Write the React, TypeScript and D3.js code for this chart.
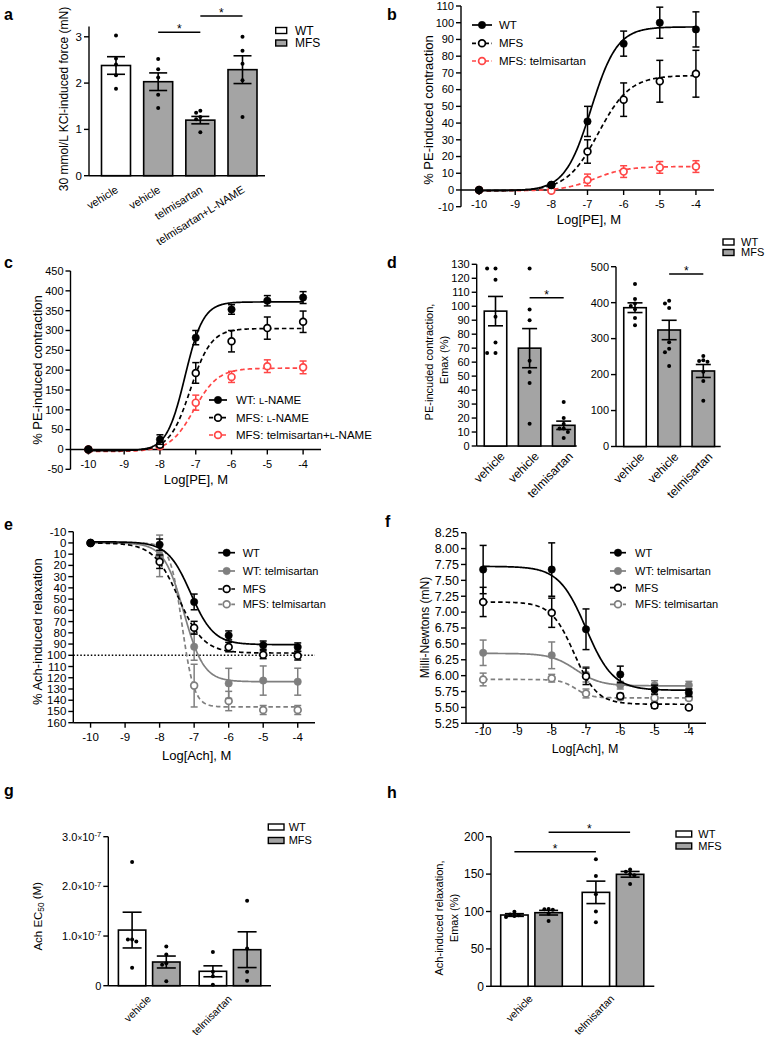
import React from "react";
import * as d3 from "d3";

const FONT = "'Liberation Sans', Arial, Helvetica, sans-serif";
const BAR_GRAY = "#a4a4a4";
const RED = "#ff4646";
const MID_GRAY = "#7f7f7f";

// ================= DATA =================
// Panel a
const aLabels = ["vehicle", "vehicle", "telmisartan", "telmisartan+L-NAME"];
const aGenotype = ["WT", "MFS", "MFS", "MFS"];
const aMean = [2.38, 2.03, 1.2, 2.29];
const aSem = [0.19, 0.19, 0.08, 0.3];
const aPoints = [
  [3.03, 2.53, 2.4, 2.17, 1.88],
  [2.52, 2.3, 2.12, 1.75, 1.46],
  [1.4, 1.36, 1.27, 1.22, 0.94],
  [3.0, 2.7, 2.42, 2.06, 1.27],
];
const aTicks = [0, 1, 2, 3];
const aSigPairs = [[1, 2], [2, 3]];

// Concentration-response panels (log molar)
const logDose = [-10, -8, -7, -6, -5, -4];
const logTicks = [-10, -9, -8, -7, -6, -5, -4];

// Panel b (fit = [start, end, logEC50, hill])
const bWtMean = [0, 3, 41, 87.5, 100, 96];
const bWtSem = [0.5, 1, 9, 7.5, 9.3, 10.5];
const bWtFit = [-0.5, 97.5, -6.9, 1.2];
const bMfsMean = [0, 3, 23, 54, 65, 69.5];
const bMfsSem = [0.5, 1, 7, 10, 12.5, 14];
const bMfsFit = [-0.5, 68.5, -6.7, 1.0];
const bTelMean = [0, -0.5, 6, 11, 13.5, 14];
const bTelSem = [0.5, 1, 3.5, 3.5, 3.5, 3.5];
const bTelFit = [-0.5, 14, -6.8, 1.0];
const bYTicks = d3.range(-10, 111, 10);

// Panel c
const cWtMean = [0, 25, 282, 353, 375, 383];
const cWtSem = [3, 12, 18, 12, 13, 15];
const cWtFit = [-3, 372, -7.3, 1.7];
const cMfsMean = [0, 12, 193, 273, 306, 322];
const cMfsSem = [3, 6, 26, 27, 28, 27];
const cMfsFit = [-3, 305, -7.15, 1.5];
const cTelMean = [0, 8, 118, 183, 210, 207];
const cTelSem = [3, 4, 19, 14, 16, 16];
const cTelFit = [-5, 205, -7.05, 1.3];
const cYTicks = d3.range(-50, 451, 50);

// Panel d
const dLabels = ["vehicle", "vehicle", "telmisartan"];
const dGenotype = ["WT", "MFS", "MFS"];
const dLeftMean = [96.5, 70, 14.8];
const dLeftSem = [10.5, 14, 3];
const dLeftPoints = [
  [127, 127, 119, 92.5, 74, 66.5, 66.5],
  [127, 97.7, 90, 61, 53, 45, 16],
  [31.5, 20, 15.8, 12.5, 12.5, 10, 5.7],
];
const dRightMean = [386, 324, 210];
const dRightSem = [13.5, 27, 18];
const dRightPoints = [
  [452, 410, 398, 391, 382, 357, 337],
  [405, 398, 385, 290, 272, 262, 224],
  [252, 240, 238, 236, 208, 182, 127],
];
const dLeftTicks = d3.range(0, 131, 10);
const dRightTicks = d3.range(0, 501, 100);

// Panel e
const eWtMean = [0, 1.5, 52.5, 82.3, 91, 92.7];
const eWtSem = [1, 5, 7, 4, 3.7, 3.7];
const eWtFit = [-1, 90.5, -7.1, 1.3];
const eWtTelMean = [0, 12, 92.4, 125, 122.5, 123.5];
const eWtTelSem = [1, 4, 12, 13.4, 13, 12];
const eWtTelFit = [0, 123.5, -7.3, 1.5];
const eMfsMean = [0, 16.7, 75.5, 92.7, 99.5, 100.4];
const eMfsSem = [1, 6, 5.7, 4.2, 3.5, 3.8];
const eMfsFit = [0, 98, -7.45, 1.2];
const eMfsTelMean = [0, 11.5, 127, 140.7, 148.7, 148.7];
const eMfsTelSem = [1, 18.5, 19, 8.6, 4, 4];
const eMfsTelFit = [0, 146, -7.35, 2.5];
const eYTicks = d3.range(-10, 161, 10);
const eRefLine = 100;

// Panel f
const fWtMean = [7.67, 7.67, 6.73, 6.02, 5.78, 5.73];
const fWtSem = [0.38, 0.42, 0.32, 0.13, 0.07, 0.06];
const fWtFit = [7.72, 5.77, -7.0, 1.1];
const fWtTelMean = [6.36, 6.32, 6.02, 5.85, 5.85, 5.85];
const fWtTelSem = [0.2, 0.21, 0.12, 0.06, 0.07, 0.06];
const fWtTelFit = [6.35, 5.84, -7.3, 1.2];
const fMfsMean = [7.16, 6.99, 5.99, 5.68, 5.53, 5.5];
const fMfsSem = [0.23, 0.23, 0.13, 0.04, 0.04, 0.03];
const fMfsFit = [7.16, 5.55, -7.35, 1.3];
const fMfsTelMean = [5.94, 5.96, 5.72, 5.66, 5.65, 5.65];
const fMfsTelSem = [0.1, 0.06, 0.07, 0.04, 0.05, 0.04];
const fMfsTelFit = [5.94, 5.65, -7.3, 2.0];
const fYTicks = d3.range(5.25, 8.26, 0.25);

// Panel g
const gGroups = ["vehicle", "telmisartan"];
const gWtMean = [1.12e-7, 0.29e-7];
const gWtSem = [0.36e-7, 0.11e-7];
const gMfsMean = [0.477e-7, 0.725e-7];
const gMfsSem = [0.12e-7, 0.36e-7];
const gWtPoints = [[2.49e-7, 0.93e-7, 0.89e-7, 0.93e-7, 0.36e-7], [0.68e-7, 0.28e-7, 0.19e-7, 0.02e-7]];
const gMfsPoints = [[0.79e-7, 0.63e-7, 0.45e-7, 0.42e-7, 0.09e-7], [1.71e-7, 0.75e-7, 0.28e-7, 0.1e-7]];
const gTicks = [0, 1e-7, 2e-7, 3e-7];

// Panel h
const hGroups = ["vehicle", "telmisartan"];
const hWtMean = [95.3, 125.6];
const hWtSem = [1.8, 15];
const hMfsMean = [98.4, 149.7];
const hMfsSem = [3.1, 3.8];
const hWtPoints = [[99.8, 96, 95, 94, 92.5], [170, 147.6, 123, 100, 85.5]];
const hMfsPoints = [[103.3, 102.9, 102.5, 97, 87.2], [156.3, 153, 150, 148.5, 136.7]];
const hTicks = [0, 50, 100, 150, 200];

// ================= HELPERS =================
const SW = 1.4;

function logistic(fit: number[], x: number) {
  const [s, e, c, h] = fit;
  return s + (e - s) / (1 + Math.pow(10, (c - x) * h));
}

function YAxis({ x, y, ticks, fmt, fs, top, bottom }: any) {
  return (
    <g>
      <line x1={x} x2={x} y1={top} y2={bottom} stroke="#000" strokeWidth={SW} />
      {ticks.map((t: number, i: number) => (
        <g key={i}>
          <line x1={x - 5} x2={x} y1={y(t)} y2={y(t)} stroke="#000" strokeWidth={SW} />
          <text x={x - 7} y={y(t)} dy="0.35em" textAnchor="end" fontSize={fs}>
            {fmt ? fmt(t) : String(t)}
          </text>
        </g>
      ))}
    </g>
  );
}

function XAxisLog({ x, yLine, labelY, fs }: any) {
  const [d0, d1] = x.domain();
  return (
    <g>
      <line x1={x(d0)} x2={x(d1)} y1={yLine} y2={yLine} stroke="#000" strokeWidth={SW} />
      {logTicks.map((t, i) => (
        <g key={i}>
          <line x1={x(t)} x2={x(t)} y1={yLine} y2={yLine + 5} stroke="#000" strokeWidth={SW} />
          <text x={x(t)} y={labelY} textAnchor="middle" fontSize={fs}>{String(t)}</text>
        </g>
      ))}
    </g>
  );
}

function Marker({ cx, cy, color, open }: any) {
  return open ? (
    <circle cx={cx} cy={cy} r={3.4} fill="#fff" stroke={color} strokeWidth={1.7} />
  ) : (
    <circle cx={cx} cy={cy} r={3.7} fill={color} stroke={color} strokeWidth={0.5} />
  );
}

function CurveSeries({ s, x, y }: any) {
  const xs = d3.range(logDose[0], logDose[logDose.length - 1] + 1e-9, 0.02);
  const line = d3.line<number>().x((d) => x(d)).y((d) => y(logistic(s.fit, d)));
  return (
    <g>
      <path d={line(xs) || ""} fill="none" stroke={s.color} strokeWidth={1.7}
        strokeDasharray={s.dashed ? "4.5,3" : undefined} />
      {logDose.map((xv, i) => {
        const cx = x(xv);
        const y1 = y(s.mean[i] - s.sem[i]);
        const y2 = y(s.mean[i] + s.sem[i]);
        return (
          <g key={i} stroke={s.color} strokeWidth={1.5}>
            <line x1={cx} x2={cx} y1={y1} y2={y2} />
            <line x1={cx - 3.5} x2={cx + 3.5} y1={y1} y2={y1} />
            <line x1={cx - 3.5} x2={cx + 3.5} y1={y2} y2={y2} />
          </g>
        );
      })}
      {logDose.map((xv, i) => (
        <Marker key={i} cx={x(xv)} cy={y(s.mean[i])} color={s.color} open={s.open} />
      ))}
    </g>
  );
}

function CurveLegend({ series, x1, x2, tx, ys, fs }: any) {
  return (
    <g>
      {series.map((s: any, i: number) => (
        <g key={i}>
          <line x1={x1} x2={x2} y1={ys[i]} y2={ys[i]} stroke={s.color} strokeWidth={1.7}
            strokeDasharray={s.dashed ? "4,2.5" : undefined} />
          <Marker cx={(x1 + x2) / 2} cy={ys[i]} color={s.color} open={s.open} />
          <text x={tx} y={ys[i]} dy="0.36em" fontSize={fs}>{s.name}</text>
        </g>
      ))}
    </g>
  );
}

function jitter(values: number[], y: (v: number) => number, cx: number) {
  const placed: { x: number; y: number }[] = [];
  const order = values.map((_, i) => i).sort((a, b) => values[b] - values[a]);
  const out: { x: number; y: number }[] = new Array(values.length);
  const cands = [0, -4.2, 4.2, -8.4, 8.4, -12, 12];
  for (const i of order) {
    const py = y(values[i]);
    let chosen = cands[cands.length - 1];
    for (const c of cands) {
      if (placed.every((p) => Math.hypot(p.x - (cx + c), p.y - py) >= 4.2)) {
        chosen = c;
        break;
      }
    }
    placed.push({ x: cx + chosen, y: py });
    out[i] = { x: cx + chosen, y: py };
  }
  return out;
}

function Bar({ cx, y, bw, mean, sem, points, fill, capW }: any) {
  const y0 = y(0);
  const yt = y(mean);
  const ylo = y(mean - sem);
  const yhi = y(mean + sem);
  const pts = jitter(points, y, cx);
  return (
    <g>
      <rect x={cx - bw / 2} y={yt} width={bw} height={y0 - yt} fill={fill} stroke="#000" strokeWidth={1.6} />
      <g stroke="#000" strokeWidth={1.6}>
        <line x1={cx} x2={cx} y1={ylo} y2={yhi} />
        <line x1={cx - capW / 2} x2={cx + capW / 2} y1={ylo} y2={ylo} />
        <line x1={cx - capW / 2} x2={cx + capW / 2} y1={yhi} y2={yhi} />
      </g>
      {pts.map((p, i) => (
        <circle key={i} cx={p.x} cy={p.y} r={2} fill="#000" />
      ))}
    </g>
  );
}

function RotLabel({ x, y, angle, fs, children }: any) {
  return (
    <text transform={`translate(${x},${y}) rotate(${angle})`} textAnchor="end" fontSize={fs}>
      {children}
    </text>
  );
}

function VTitle({ x, y, fs, children }: any) {
  return (
    <text transform={`translate(${x},${y}) rotate(-90)`} textAnchor="middle" fontSize={fs}>
      {children}
    </text>
  );
}

function BoxLegend({ x, ys, w, h, tx, fs }: any) {
  const items = [["WT", "#fff"], ["MFS", BAR_GRAY]];
  return (
    <g>
      {items.map(([name, fill], i) => (
        <g key={i}>
          <rect x={x} y={ys[i] - h / 2} width={w} height={h} fill={fill} stroke="#000" strokeWidth={1.4} />
          <text x={tx} y={ys[i]} dy="0.36em" fontSize={fs}>{name}</text>
        </g>
      ))}
    </g>
  );
}

function SigLine({ x1, x2, y }: any) {
  return (
    <g>
      <line x1={x1} x2={x2} y1={y} y2={y} stroke="#000" strokeWidth={1.5} />
      <text x={(x1 + x2) / 2} y={y + 1} textAnchor="middle" fontSize={12}>*</text>
    </g>
  );
}

const fillFor = (g: string) => (g === "WT" ? "#fff" : BAR_GRAY);
const PanelLabel = ({ x, y, t }: any) => (
  <text x={x} y={y} fontSize={16} fontWeight="bold">{t}</text>
);

const LN = ({ pre, post }: any) => (
  <>
    {pre}
    <tspan fontSize="0.8em">L</tspan>
    {post}
  </>
);

// ================= PANELS =================
function PanelA() {
  const x = d3.scalePoint<number>().domain(d3.range(aMean.length)).range([116, 242.5]);
  const y = d3.scaleLinear().domain([0, 3.22]).range([175.7, 26.6]);
  const bw = 29;
  const axisY = y(0);
  const sigY = [y(3.1), y(3.45)];
  return (
    <g>
      <PanelLabel x={4} y={20} t="a" />
      <YAxis x={89} y={y} ticks={aTicks} top={y(3.22)} bottom={axisY} fs={11.5} />
      <line x1={89} x2={265} y1={axisY} y2={axisY} stroke="#000" strokeWidth={SW} />
      {aMean.map((m, i) => (
        <Bar key={i} cx={x(i)} y={y} bw={bw} mean={m} sem={aSem[i]} points={aPoints[i]}
          fill={fillFor(aGenotype[i])} capW={18} />
      ))}
      {aSigPairs.map(([p, q], i) => (
        <SigLine key={i} x1={x(p)!} x2={x(q)!} y={sigY[i]} />
      ))}
      {aLabels.map((l, i) => (
        <RotLabel key={i} x={x(i)! + 3} y={axisY + 16} angle={-32} fs={11}>{l}</RotLabel>
      ))}
      <VTitle x={68} y={99} fs={12}>30 mmol/L KCl-induced force (mN)</VTitle>
      <BoxLegend x={275.7} ys={[30.5, 43]} w={11} h={6} tx={295} fs={12} />
    </g>
  );
}

function PanelB() {
  const x = d3.scaleLinear().domain([-10.5, -3.5]).range([461, 714]);
  const y = d3.scaleLinear().domain([-10, 110]).range([206.7, 6]);
  const series = [
    { name: "WT", mean: bWtMean, sem: bWtSem, fit: bWtFit, color: "#000", dashed: false, open: false },
    { name: "MFS", mean: bMfsMean, sem: bMfsSem, fit: bMfsFit, color: "#000", dashed: true, open: true },
    { name: "MFS: telmisartan", mean: bTelMean, sem: bTelSem, fit: bTelFit, color: RED, dashed: true, open: true },
  ];
  return (
    <g>
      <PanelLabel x={387} y={19.5} t="b" />
      <YAxis x={461} y={y} ticks={bYTicks} top={y(110)} bottom={y(-10)} fs={11} />
      <XAxisLog x={x} yLine={y(0)} labelY={207.5} fs={11} />
      {series.slice().reverse().map((s, i) => (
        <CurveSeries key={i} s={s} x={x} y={y} />
      ))}
      <CurveLegend series={series} x1={472} x2={492} tx={499} ys={[25, 43.3, 61]} fs={11.5} />
      <text x={589} y={224} textAnchor="middle" fontSize={13}>Log[PE], M</text>
      <VTitle x={433} y={110} fs={13}>% PE-induced contraction</VTitle>
    </g>
  );
}

function PanelC() {
  const x = d3.scaleLinear().domain([-10.5, -3.5]).range([70.5, 321]);
  const y = d3.scaleLinear().domain([-50, 450]).range([469.3, 271]);
  const series = [
    { name: <LN pre="WT: " post="-NAME" />, mean: cWtMean, sem: cWtSem, fit: cWtFit, color: "#000", dashed: false, open: false },
    { name: <LN pre="MFS: " post="-NAME" />, mean: cMfsMean, sem: cMfsSem, fit: cMfsFit, color: "#000", dashed: true, open: true },
    { name: <LN pre="MFS: telmisartan+" post="-NAME" />, mean: cTelMean, sem: cTelSem, fit: cTelFit, color: RED, dashed: true, open: true },
  ];
  return (
    <g>
      <PanelLabel x={4} y={268} t="c" />
      <YAxis x={70.5} y={y} ticks={cYTicks} top={y(450)} bottom={y(-50)} fs={11} />
      <XAxisLog x={x} yLine={y(0)} labelY={468} fs={11} />
      {series.slice().reverse().map((s, i) => (
        <CurveSeries key={i} s={s} x={x} y={y} />
      ))}
      <CurveLegend series={series} x1={209} x2={227} tx={236} ys={[400, 417.7, 435]} fs={11.5} />
      <text x={196} y={484} textAnchor="middle" fontSize={13}>Log[PE], M</text>
      <VTitle x={42} y={370} fs={13}>% PE-induced contraction</VTitle>
    </g>
  );
}

function PanelD() {
  const yL = d3.scaleLinear().domain([0, 130]).range([446, 264.3]);
  const yR = d3.scaleLinear().domain([0, 500]).range([446.5, 266.7]);
  const xL = d3.scalePoint<number>().domain(d3.range(3)).range([495.5, 563.7]);
  const xR = d3.scalePoint<number>().domain(d3.range(3)).range([635, 703.3]);
  const bw = 22.5;
  return (
    <g>
      <PanelLabel x={387} y={267.7} t="d" />
      <YAxis x={476.7} y={yL} ticks={dLeftTicks} top={yL(130)} bottom={yL(0)} fs={11} />
      <line x1={476.7} x2={576.7} y1={yL(0)} y2={yL(0)} stroke="#000" strokeWidth={SW} />
      {dLeftMean.map((m, i) => (
        <Bar key={i} cx={xL(i)} y={yL} bw={bw} mean={m} sem={dLeftSem[i]} points={dLeftPoints[i]}
          fill={fillFor(dGenotype[i])} capW={15} />
      ))}
      <SigLine x1={xL(1)!} x2={xL(2)!} y={yL(106)} />
      {dLabels.map((l, i) => (
        <RotLabel key={i} x={xL(i)! + 10} y={yL(0) + 11} angle={-45} fs={12}>{l}</RotLabel>
      ))}
      <YAxis x={616} y={yR} ticks={dRightTicks} top={yR(500)} bottom={yR(0)} fs={11} />
      <line x1={616} x2={720.7} y1={yR(0)} y2={yR(0)} stroke="#000" strokeWidth={SW} />
      {dRightMean.map((m, i) => (
        <Bar key={i} cx={xR(i)} y={yR} bw={bw} mean={m} sem={dRightSem[i]} points={dRightPoints[i]}
          fill={fillFor(dGenotype[i])} capW={15} />
      ))}
      <SigLine x1={xR(1)!} x2={xR(2)!} y={yR(480)} />
      {dLabels.map((l, i) => (
        <RotLabel key={i} x={xR(i)! + 10} y={yR(0) + 11} angle={-45} fs={12}>{l}</RotLabel>
      ))}
      <VTitle x={432.7} y={362} fs={11}>PE-incuded contraction,</VTitle>
      <VTitle x={447.7} y={360} fs={11}>Emax (%)</VTitle>
      <BoxLegend x={723} ys={[242, 252.5]} w={11} h={6} tx={741} fs={11} />
    </g>
  );
}

function PanelE() {
  const x = d3.scaleLinear().domain([-10.5, -3.5]).range([73.3, 315]);
  const y = d3.scaleLinear().domain([-10, 160]).range([531.7, 722.7]);
  const series = [
    { name: "WT", mean: eWtMean, sem: eWtSem, fit: eWtFit, color: "#000", dashed: false, open: false },
    { name: "WT: telmisartan", mean: eWtTelMean, sem: eWtTelSem, fit: eWtTelFit, color: MID_GRAY, dashed: false, open: false },
    { name: "MFS", mean: eMfsMean, sem: eMfsSem, fit: eMfsFit, color: "#000", dashed: true, open: true },
    { name: "MFS: telmisartan", mean: eMfsTelMean, sem: eMfsTelSem, fit: eMfsTelFit, color: MID_GRAY, dashed: true, open: true },
  ];
  const drawOrder = [series[3], series[1], series[2], series[0]];
  return (
    <g>
      <PanelLabel x={4} y={530} t="e" />
      <YAxis x={73.3} y={y} ticks={eYTicks} top={y(-10)} bottom={y(160)} fs={11.5} />
      <XAxisLog x={x} yLine={y(160)} labelY={741} fs={11.5} />
      <line x1={x(-10.5)} x2={x(-3.5)} y1={y(eRefLine)} y2={y(eRefLine)} stroke="#000"
        strokeWidth={1.5} strokeDasharray="1.5,2" />
      {drawOrder.map((s, i) => (
        <CurveSeries key={i} s={s} x={x} y={y} />
      ))}
      <CurveLegend series={series} x1={218.3} x2={235} tx={242.7} ys={[552.7, 571, 589, 604.3]} fs={11} />
      <text x={196.7} y={760} textAnchor="middle" fontSize={13}>Log[Ach], M</text>
      <VTitle x={42} y={631.7} fs={13}>% Ach-induced relaxation</VTitle>
    </g>
  );
}

function PanelF() {
  const x = d3.scaleLinear().domain([-10.5, -3.5]).range([466, 706]);
  const y = d3.scaleLinear().domain([5.25, 8.25]).range([723.3, 532.7]);
  const series = [
    { name: "WT", mean: fWtMean, sem: fWtSem, fit: fWtFit, color: "#000", dashed: false, open: false },
    { name: "WT: telmisartan", mean: fWtTelMean, sem: fWtTelSem, fit: fWtTelFit, color: MID_GRAY, dashed: false, open: false },
    { name: "MFS", mean: fMfsMean, sem: fMfsSem, fit: fMfsFit, color: "#000", dashed: true, open: true },
    { name: "MFS: telmisartan", mean: fMfsTelMean, sem: fMfsTelSem, fit: fMfsTelFit, color: MID_GRAY, dashed: true, open: true },
  ];
  const drawOrder = [series[3], series[1], series[2], series[0]];
  return (
    <g>
      <PanelLabel x={385} y={527} t="f" />
      <YAxis x={466} y={y} ticks={fYTicks} top={y(8.25)} bottom={y(5.25)} fs={12.5}
        fmt={(t: number) => t.toFixed(2)} />
      <XAxisLog x={x} yLine={y(5.25)} labelY={735} fs={11.5} />
      {drawOrder.map((s, i) => (
        <CurveSeries key={i} s={s} x={x} y={y} />
      ))}
      <CurveLegend series={series} x1={610} x2={626} tx={635} ys={[552.7, 571, 587.7, 604.3]} fs={11} />
      <text x={585} y={753} textAnchor="middle" fontSize={12.5}>Log[Ach], M</text>
      <VTitle x={429} y={627.5} fs={12}>Milli-Newtons (mN)</VTitle>
    </g>
  );
}

function GroupedBars({ groups, gx, off, y, bw, wtMean, wtSem, wtPts, mfsMean, mfsSem, mfsPts }: any) {
  return (
    <g>
      {groups.map((_: string, i: number) => (
        <g key={i}>
          <Bar cx={gx(i) - off} y={y} bw={bw} mean={wtMean[i]} sem={wtSem[i]} points={wtPts[i]} fill="#fff" capW={19} />
          <Bar cx={gx(i) + off} y={y} bw={bw} mean={mfsMean[i]} sem={mfsSem[i]} points={mfsPts[i]} fill={BAR_GRAY} capW={19} />
        </g>
      ))}
    </g>
  );
}

function PanelG() {
  const y = d3.scaleLinear().domain([0, 3e-7]).range([985.7, 836.7]);
  const gx = d3.scalePoint<number>().domain(d3.range(gGroups.length)).range([149.2, 230]);
  const fmt = (t: number) =>
    t === 0 ? "0" : (
      <>
        {(t / 1e-7).toFixed(1)}
        <tspan fontSize="0.75em">×</tspan>
        10
        <tspan dy="-0.45em" fontSize="0.7em">-7</tspan>
      </>
    );
  return (
    <g>
      <PanelLabel x={4} y={796} t="g" />
      <YAxis x={108.3} y={y} ticks={gTicks} top={y(3e-7)} bottom={y(0)} fs={11} fmt={fmt} />
      <line x1={108.3} x2={271} y1={y(0)} y2={y(0)} stroke="#000" strokeWidth={SW} />
      <GroupedBars groups={gGroups} gx={gx} off={17.1} y={y} bw={27.4}
        wtMean={gWtMean} wtSem={gWtSem} wtPts={gWtPoints} mfsMean={gMfsMean} mfsSem={gMfsSem} mfsPts={gMfsPoints} />
      {gGroups.map((l, i) => (
        <RotLabel key={i} x={gx(i)! + 2.5} y={y(0) + 14} angle={-45} fs={10.5}>{l}</RotLabel>
      ))}
      <VTitle x={41.7} y={916.3} fs={11.5}>
        Ach EC<tspan fontSize="0.72em" dy="0.3em">50</tspan><tspan dy="-0.3em"> (M)</tspan>
      </VTitle>
      <BoxLegend x={268.3} ys={[827, 840.5]} w={15.7} h={6} tx={288.7} fs={11} />
    </g>
  );
}

function PanelH() {
  const y = d3.scaleLinear().domain([0, 200]).range([986.3, 836.7]);
  const gx = d3.scalePoint<number>().domain(d3.range(hGroups.length)).range([531.5, 613]);
  const off = 17.1;
  return (
    <g>
      <PanelLabel x={387} y={798} t="h" />
      <YAxis x={491} y={y} ticks={hTicks} top={y(200)} bottom={y(0)} fs={12} />
      <line x1={491} x2={654.3} y1={y(0)} y2={y(0)} stroke="#000" strokeWidth={SW} />
      <GroupedBars groups={hGroups} gx={gx} off={off} y={y} bw={27.4}
        wtMean={hWtMean} wtSem={hWtSem} wtPts={hWtPoints} mfsMean={hMfsMean} mfsSem={hMfsSem} mfsPts={hMfsPoints} />
      <SigLine x1={gx(0)! - off} x2={gx(1)! - off} y={y(180)} />
      <SigLine x1={gx(0)! + off} x2={gx(1)! + off} y={y(206)} />
      {hGroups.map((l, i) => (
        <RotLabel key={i} x={gx(i)! + 2} y={y(0) + 13} angle={-45} fs={10.5}>{l}</RotLabel>
      ))}
      <VTitle x={443} y={918} fs={11}>Ach-induced relaxation,</VTitle>
      <VTitle x={458} y={918} fs={11}>Emax (%)</VTitle>
      <BoxLegend x={676} ys={[834, 846]} w={15.7} h={6} tx={698.3} fs={11} />
    </g>
  );
}

export default function App() {
  return (
    <svg width={770} height={1038} viewBox="0 0 770 1038" fontFamily={FONT}
      style={{ position: "absolute", left: 0, top: 0, background: "#fff" }}>
      <rect width={770} height={1038} fill="#fff" />
      <PanelA />
      <PanelB />
      <PanelC />
      <PanelD />
      <PanelE />
      <PanelF />
      <PanelG />
      <PanelH />
    </svg>
  );
}
